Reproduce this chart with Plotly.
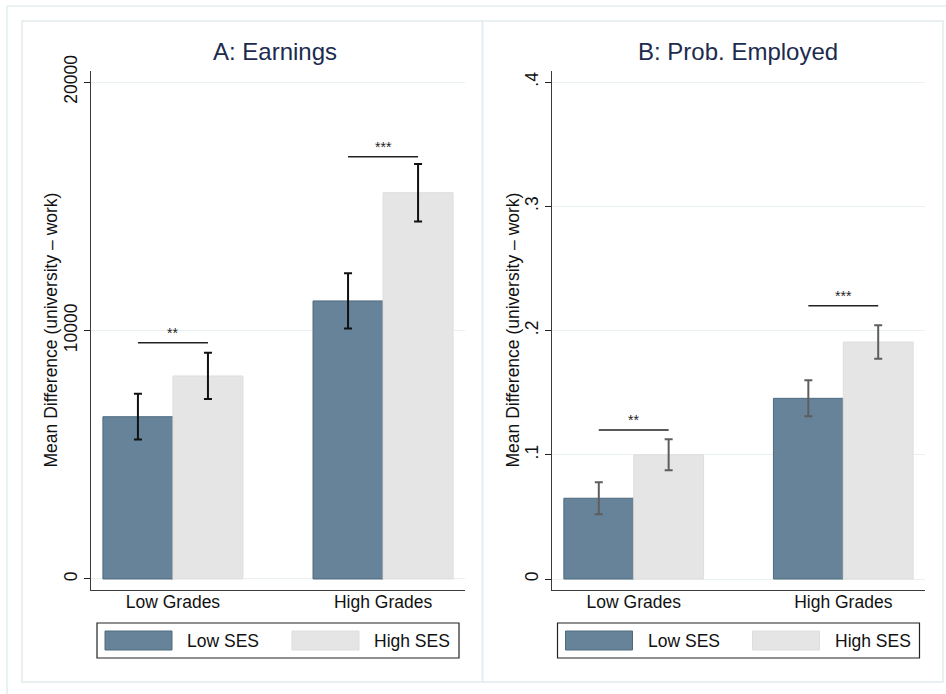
import plotly.graph_objects as go

# ---------------- data ----------------
categories = ["Low Grades", "High Grades"]
series_names = ["Low SES", "High SES"]

earn_low = [6530, 11190]
earn_low_err = [920, 1110]
earn_high = [8170, 15545]
earn_high_err = [930, 1160]
earn_bracket = [9510, 16995]
earn_stars = ["**", "***"]

emp_low = [0.065, 0.1454]
emp_low_err = [0.0129, 0.0145]
emp_high = [0.100, 0.1907]
emp_high_err = [0.0125, 0.0135]
emp_bracket = [0.12, 0.22]
emp_stars = ["**", "***"]

earn_ticks = [0, 10000, 20000]
earn_ticklabels = ["0", "10000", "20000"]
emp_ticks = [0, 0.1, 0.2, 0.3, 0.4]
emp_ticklabels = ["0", ".1", ".2", ".3", ".4"]

panel_titles = ["A: Earnings", "B: Prob. Employed"]
ytitle = "Mean Difference (university \u2013 work)"

# ---------------- style ----------------
W, H = 946, 694
FONT = "Liberation Sans, Arial, Helvetica, sans-serif"
C_LOW = "#66839a"
C_LOW_EDGE = "#4e6a7f"
C_HIGH = "#e5e5e5"
C_HIGH_EDGE = "#dedede"
C_GRID = "#e8f0f1"
C_BORDER = "#e3ecee"
C_TITLE = "#1c2b4e"


def px(x):
    return x / W


def py(y):
    return 1 - y / H


x_idx = list(range(len(categories)))

fig = go.Figure()

panels = [
    dict(low=earn_low, lerr=earn_low_err, high=earn_high, herr=earn_high_err,
         br=earn_bracket, stars=earn_stars, ecol="#111111", xa="x", ya="y"),
    dict(low=emp_low, lerr=emp_low_err, high=emp_high, herr=emp_high_err,
         br=emp_bracket, stars=emp_stars, ecol="#5e5e5e", xa="x2", ya="y2"),
]

for p in panels:
    fig.add_trace(go.Bar(
        x=x_idx, y=p["low"], name=series_names[0], showlegend=False,
        marker=dict(color=C_LOW, line=dict(color=C_LOW_EDGE, width=1)),
        error_y=dict(type="data", array=p["lerr"], color=p["ecol"], thickness=2, width=4),
        xaxis=p["xa"], yaxis=p["ya"], offsetgroup="a",
    ))
    fig.add_trace(go.Bar(
        x=x_idx, y=p["high"], name=series_names[1], showlegend=False,
        marker=dict(color=C_HIGH, line=dict(color=C_HIGH_EDGE, width=1)),
        error_y=dict(type="data", array=p["herr"], color=p["ecol"], thickness=2, width=4),
        xaxis=p["xa"], yaxis=p["ya"], offsetgroup="b",
    ))
    # significance brackets
    for i, (b, s) in enumerate(zip(p["br"], p["stars"])):
        fig.add_trace(go.Scatter(
            x=[i - 1 / 6, i + 1 / 6], y=[b, b], mode="lines",
            line=dict(color="#222222", width=1.5), showlegend=False,
            hoverinfo="skip", xaxis=p["xa"], yaxis=p["ya"],
        ))
        fig.add_annotation(
            x=i, y=b, xref=p["xa"], yref=p["ya"], text=s, showarrow=False,
            yanchor="bottom", yshift=0, font=dict(family=FONT, size=14, color="#222222"),
        )

xdom_a = [px(91), px(465)]
xdom_b = [px(552), px(925)]
ydom = [py(590), py(71)]
xrange = [-0.39, 1.39]

common_x = dict(
    range=xrange, tickvals=x_idx, ticktext=categories, ticks="", showgrid=False,
    zeroline=False, showline=True, linecolor="#3a3a3a", linewidth=1,
    tickfont=dict(family=FONT, size=17.5, color="#111111"), fixedrange=True,
    automargin=False, ticklabelstandoff=-4,
)
common_y = dict(
    ticks="outside", ticklen=6, tickcolor="#222222", tickwidth=1, tickangle=-90,
    showgrid=True, gridcolor=C_GRID, gridwidth=1, zeroline=False,
    showline=True, linecolor="#3a3a3a", linewidth=1,
    tickfont=dict(family=FONT, size=17.5, color="#111111"), fixedrange=True,
    automargin=False,
)

fig.update_layout(
    width=W, height=H, autosize=False,
    margin=dict(l=0, r=0, t=0, b=0, pad=0),
    paper_bgcolor="white", plot_bgcolor="white",
    barmode="group", bargap=1 / 3, bargroupgap=0,
    showlegend=False,
    xaxis=dict(domain=xdom_a, anchor="y", **common_x),
    yaxis=dict(domain=ydom, anchor="x", range=[-443, 20443],
               tickvals=earn_ticks, ticktext=earn_ticklabels, **common_y),
    xaxis2=dict(domain=xdom_b, anchor="y2", **common_x),
    yaxis2=dict(domain=ydom, anchor="x2", range=[-0.00885, 0.40885],
                tickvals=emp_ticks, ticktext=emp_ticklabels, **common_y),
    font=dict(family=FONT),
)

shapes = []
# outer border (top and left visible)
shapes.append(dict(type="line", xref="paper", yref="paper", x0=px(7), x1=1.0,
                   y0=py(6), y1=py(6), line=dict(color=C_BORDER, width=1.5)))
shapes.append(dict(type="line", xref="paper", yref="paper", x0=px(7), x1=px(7),
                   y0=py(6), y1=0, line=dict(color=C_BORDER, width=1.5)))
# panel boxes
for (x0, x1) in [(22, 482.5), (482.5, 943)]:
    shapes.append(dict(type="rect", xref="paper", yref="paper", x0=px(x0), x1=px(x1),
                       y0=py(682), y1=py(21), line=dict(color=C_BORDER, width=1.5)))

annotations = []
# panel titles and y titles
for t, cx, ytx in [(panel_titles[0], 274.5, 50), (panel_titles[1], 738, 512)]:
    annotations.append(dict(text=t, x=px(cx), y=py(52), xref="paper", yref="paper",
                            showarrow=False, xanchor="center", yanchor="middle",
                            font=dict(family=FONT, size=24, color=C_TITLE)))
    annotations.append(dict(text=ytitle, x=px(ytx), y=py(330.5), xref="paper", yref="paper",
                            showarrow=False, xanchor="center", yanchor="middle", textangle=-90,
                            font=dict(family=FONT, size=17.5, color="#111111")))

# legends (drawn boxes)
for off in [0, 460.5]:
    shapes.append(dict(type="rect", xref="paper", yref="paper", x0=px(97 + off), x1=px(459 + off),
                       y0=py(658), y1=py(623), line=dict(color="#222222", width=1.2),
                       fillcolor="white"))
    shapes.append(dict(type="rect", xref="paper", yref="paper", x0=px(105 + off), x1=px(172 + off),
                       y0=py(650), y1=py(631), line=dict(color=C_LOW_EDGE, width=1),
                       fillcolor=C_LOW))
    shapes.append(dict(type="rect", xref="paper", yref="paper", x0=px(292 + off), x1=px(359 + off),
                       y0=py(650), y1=py(631), line=dict(color=C_HIGH_EDGE, width=1),
                       fillcolor=C_HIGH))
    annotations.append(dict(text=series_names[0], x=px(185 + off), y=py(641), xref="paper",
                            yref="paper", showarrow=False, xanchor="left", yanchor="middle",
                            font=dict(family=FONT, size=17.5, color="#111111")))
    annotations.append(dict(text=series_names[1], x=px(372 + off), y=py(641), xref="paper",
                            yref="paper", showarrow=False, xanchor="left", yanchor="middle",
                            font=dict(family=FONT, size=17.5, color="#111111")))

fig.update_layout(shapes=shapes)
for a in annotations:
    fig.add_annotation(**a)

fig.write_html("out.html", config={"displayModeBar": False},
               post_script="document.body.style.margin='0px';")
